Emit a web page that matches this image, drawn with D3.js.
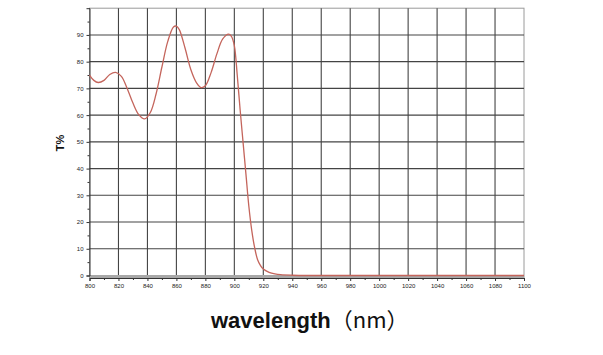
<!DOCTYPE html>
<html><head><meta charset="utf-8">
<script src="https://cdn.jsdelivr.net/npm/d3@7/dist/d3.min.js"></script>
<style>body{margin:0;background:#fff;}svg{display:block;}</style>
</head><body>
<script>
// Data
const wavelengths = [800,803,806,810,814,818,822,826,830,834,838,842,846,850,854,858,860,862,866,870,874,877,880,884,888,892,896,898,900,902,904,906,908,910,912,914,916,918,920,924,928,932,940,950,1000,1100];
const transmission = [75,73,72.2,73,75.2,76,74.5,70,64.5,60.2,58.6,61,68,78,87.5,93,93.3,92,85,77,72,70.3,71,76,83,88.5,90.3,89.5,86,75,62,50,38,26,17,10.5,6,3.8,2.4,1.2,0.6,0.3,0.1,0,0,0];
const xTicks = [800,820,840,860,880,900,920,940,960,980,1000,1020,1040,1060,1080,1100];
const yTicks = [0,10,20,30,40,50,60,70,80,90];

const W = 603, H = 355;
const svg = d3.select("body").append("svg").attr("width", W).attr("height", H);

const x = d3.scaleLinear().domain([800, 1100]).range([89.5, 524]);
const y = d3.scaleLinear().domain([0, 100]).range([275.5, 8.2]);
const yBottom = 278;

svg.append("rect").attr("x", x(800)).attr("y", y(100)).attr("width", x(1100) - x(800)).attr("height", yBottom - y(100))
  .attr("fill", "#fff").attr("stroke", "#9a9a9a").attr("stroke-width", 1);

const g = svg.append("g");
g.selectAll(".vg").data(xTicks.slice(1, -1)).enter().append("line")
  .attr("x1", d => x(d)).attr("x2", d => x(d)).attr("y1", y(100)).attr("y2", yBottom)
  .attr("stroke", "#444").attr("stroke-width", 1.1);
g.selectAll(".hg").data(yTicks.slice(1)).enter().append("line")
  .attr("x1", x(800)).attr("x2", x(1100)).attr("y1", d => y(d)).attr("y2", d => y(d))
  .attr("stroke", "#444").attr("stroke-width", 1.1);
svg.append("rect").attr("x", x(800)).attr("y", y(0) - 0.5).attr("width", x(1100) - x(800)).attr("height", yBottom - y(0) + 0.5)
  .attr("fill", "#a8a8a8");

const xAxis = d3.axisBottom(x).tickValues(xTicks).tickSize(3).tickPadding(3).tickFormat(d3.format("d"));
svg.append("g").attr("transform", `translate(0,${yBottom})`).call(xAxis);
const xMinor = d3.axisBottom(x).tickValues(d3.range(810, 1100, 20)).tickSize(2).tickFormat("");
svg.append("g").attr("transform", `translate(0,${yBottom})`).call(xMinor).select(".domain").remove();

const yAxis = d3.axisLeft(y).tickValues(yTicks).tickSize(3).tickPadding(3).tickFormat(d3.format("d"));
svg.append("g").attr("transform", `translate(${x(800)},0)`).call(yAxis);
const yMinor = d3.axisLeft(y).tickValues(d3.range(5, 100, 5).filter(v => v % 10 !== 0)).tickSize(2).tickFormat("");
svg.append("g").attr("transform", `translate(${x(800)},0)`).call(yMinor).select(".domain").remove();

svg.selectAll(".tick text").attr("font-family", "Liberation Sans, Arial, sans-serif").attr("font-size", 6).attr("fill", "#222");
svg.selectAll(".domain").attr("stroke", "#333");
svg.selectAll(".tick line").attr("stroke", "#333");

const line = d3.line().x((d, i) => x(wavelengths[i])).y(d => y(d)).curve(d3.curveCatmullRom.alpha(0.5));
svg.append("path").datum(transmission).attr("d", line)
  .attr("fill", "none").attr("stroke", "#c4655c").attr("stroke-width", 1.3);

svg.append("text").attr("transform", "translate(64,143) rotate(-90)").attr("text-anchor", "middle")
  .attr("font-family", "Liberation Sans, Arial, sans-serif").attr("font-weight", "bold").attr("font-size", 11)
  .attr("fill", "#111").text("T%");

const xl = svg.append("text").attr("x", 211).attr("y", 328)
  .attr("font-family", "Liberation Sans, Arial, sans-serif").attr("font-size", 22).attr("fill", "#111");
xl.append("tspan").attr("font-weight", "bold").text("wavelength");
xl.append("tspan").attr("font-family", "Noto Sans CJK SC").attr("font-weight", "normal").text("（nm）");
</script>
</body></html>
